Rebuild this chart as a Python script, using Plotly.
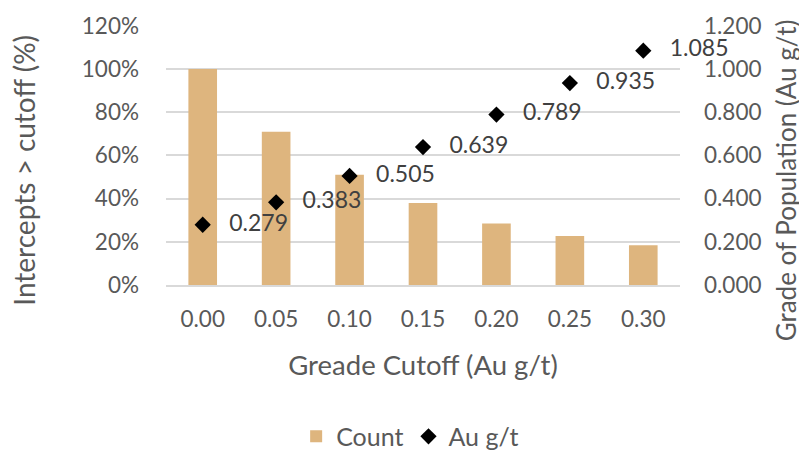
import plotly.graph_objects as go

cutoffs = ["0.00", "0.05", "0.10", "0.15", "0.20", "0.25", "0.30"]
count_pct = [100, 71, 51, 38, 28.5, 22.7, 18.4]
grade = [0.279, 0.383, 0.505, 0.639, 0.789, 0.935, 1.085]
grade_labels = ["0.279", "0.383", "0.505", "0.639", "0.789", "0.935", "1.085"]
pct_ticks = [0, 20, 40, 60, 80, 100, 120]
pct_tick_labels = ["0%", "20%", "40%", "60%", "80%", "100%", "120%"]
grade_ticks = [0, 0.2, 0.4, 0.6, 0.8, 1.0, 1.2]
grade_tick_labels = ["0.000", "0.200", "0.400", "0.600", "0.800", "1.000", "1.200"]

FONT = "Lato, Open Sans, sans-serif"
GREY = "#595959"
TICK = 22.5
TITLE = 27.5

fig = go.Figure()
fig.add_trace(go.Bar(
    x=cutoffs, y=count_pct, name="Count",
    marker=dict(color="#DEB57E", line=dict(width=0)),
    yaxis="y",
))
fig.add_trace(go.Scatter(
    x=cutoffs, y=grade, name="Au g/t", mode="markers+text",
    marker=dict(symbol="diamond", color="black", size=12.5),
    text=["   " + t for t in grade_labels], textposition="middle right",
    textfont=dict(family=FONT, size=23, color="#404040"),
    yaxis="y2", cliponaxis=False,
))

fig.update_layout(
    width=799, height=444,
    paper_bgcolor="white", plot_bgcolor="white",
    margin=dict(l=158, r=127, t=17, b=167, autoexpand=False),
    font=dict(family=FONT, size=TICK, color=GREY),
    bargap=0.61,
    showlegend=True,
    legend=dict(orientation="h", x=0.475, xanchor="center", y=-0.583, yanchor="middle",
                font=dict(size=25, color=GREY), traceorder="normal"),
    xaxis=dict(
        type="category", showgrid=False, showline=True, linecolor="#D9D9D9", linewidth=1.5,
        ticks="", tickfont=dict(size=TICK, color=GREY), automargin=False, ticklabelstandoff=13,
        title=dict(text="Greade Cutoff (Au g/t)", font=dict(size=TITLE, color=GREY), standoff=25),
    ),
    yaxis=dict(
        range=[0, 120.4], tickmode="array", tickvals=pct_ticks, ticktext=pct_tick_labels,
        showgrid=True, gridcolor="#D9D9D9", gridwidth=1.5,
        zeroline=False, showline=False, ticks="", tickfont=dict(size=TICK, color=GREY), automargin=False,
        ticklabelstandoff=26,
    ),
    yaxis2=dict(
        range=[0, 1.204], tickmode="array", tickvals=grade_ticks, ticktext=grade_tick_labels,
        overlaying="y", side="right", automargin=False,
        showgrid=False, zeroline=False, showline=False, ticks="", tickfont=dict(size=TICK, color=GREY),
        ticklabelstandoff=23,
    ),
    annotations=[
        dict(text="Intercepts > cutoff (%)", xref="paper", yref="paper", x=-0.277, y=0.442,
             xanchor="center", yanchor="middle", textangle=-90, showarrow=False,
             font=dict(size=28, color=GREY, family=FONT)),
        dict(text="Grade of Population (Au g/t)", xref="paper", yref="paper", x=1.207, y=0.404,
             xanchor="center", yanchor="middle", textangle=-90, showarrow=False,
             font=dict(size=26, color=GREY, family=FONT)),
    ],
)

fig.write_html("out.html")
